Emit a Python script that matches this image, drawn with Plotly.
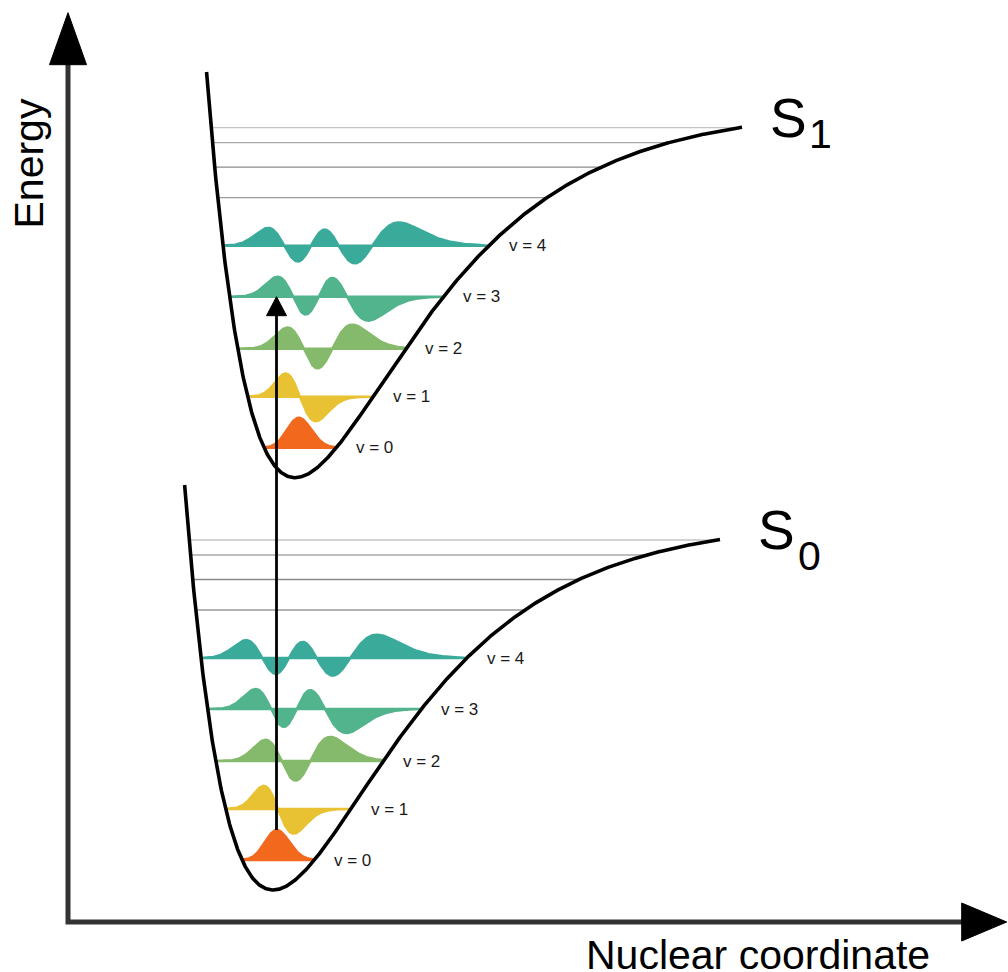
import numpy as np
import plotly.graph_objects as go
from numpy.polynomial.hermite import hermval
from math import factorial, pi, sqrt

W, H = 1008, 972

# Electronic states (ground and first excited singlet)
state_names = ["S0", "S1"]
well_x = [273.0, 295.0]        # nuclear coordinate of each potential minimum
well_e = [82.0, 494.3]         # energy of each potential minimum
curve_top = [405.0, 405.7]     # energy above the minimum where the repulsive wall is cut
curve_end_x = [720.0, 742.0]   # nuclear coordinate where the dissociative branch is cut

# Morse potential parameters shared by both states
morse_depth = 370.0
morse_alpha = 0.0081

# Vibrational levels drawn with wavefunctions (energy above the minimum)
vib_levels = [30.0, 81.0, 129.0, 181.0, 232.0]
vib_labels = ["v = 0", "v = 1", "v = 2", "v = 3", "v = 4"]
# Higher levels drawn as plain lines
upper_levels = [280.0, 310.5, 335.0, 350.0]
upper_colors = ["#9b9b9b", "#8a8a8a", "#a9a9a9", "#c4c4c4"]

# Wavefunction shape per level: centre offset from the minimum, width, height scale
wave_shift = [3.5, 5.0, 22.5, 23.5, 29.5]
wave_width = [12.0, 15.0, 20.3, 22.0, 26.4]
wave_scale = [40.0, 37.0, 37.0, 37.0, 35.0]
wave_skew = 0.004
wave_colors = ["#F2691E", "#E8C232", "#85BA6C", "#52B48C", "#3AAA9B"]

# Vertical transition: from S0 v=0 to S1 v=3
transition_from = 0
transition_to = 3

AX_X0, AX_Y0 = 68.0, 50.0
AX_XMAX, AX_YMAX = 1006.7, 959.3


def morse(x, x0):
    return morse_depth * (1.0 - np.exp(-morse_alpha * (x - x0))) ** 2


def turning_points(v, x0):
    r = np.sqrt(v / morse_depth)
    xl = x0 - np.log(1.0 + r) / morse_alpha
    xr = x0 - np.log(1.0 - r) / morse_alpha if r < 1 else x0 + 2000
    return xl, xr


def wavefunction(n, x, centre, width):
    d = x - centre
    xi = (1.0 - np.exp(-wave_skew * d)) / (wave_skew * width)
    coef = np.zeros(n + 1)
    coef[n] = 1.0
    norm = 1.0 / sqrt(2 ** n * factorial(n) * sqrt(pi))
    psi = norm * hermval(xi, coef) * np.exp(-xi ** 2 / 2.0)
    jac = np.exp(wave_skew * d / 2.0)
    return (-1) ** n * psi * jac


fig = go.Figure()

for s in range(2):
    x0, e0 = well_x[s], well_e[s]
    # upper vibrational levels as thin lines
    for lev, col in zip(upper_levels, upper_colors):
        xl, xr = turning_points(lev, x0)
        xr = min(xr, curve_end_x[s])
        fig.add_trace(go.Scatter(x=[xl, xr], y=[e0 + lev, e0 + lev], mode="lines",
                                 line=dict(color=col, width=1.3), hoverinfo="skip"))
    # wavefunctions
    for n, lev in enumerate(vib_levels):
        xl, xr = turning_points(lev, x0)
        xs = np.linspace(xl, xr, 500)
        psi = wavefunction(n, xs, x0 + wave_shift[n], wave_width[n])
        base = e0 + lev
        ys = base + wave_scale[n] * psi
        px = np.concatenate([xs, xs[::-1]])
        py = np.concatenate([ys, np.full_like(xs, base)])
        fig.add_trace(go.Scatter(x=px, y=py, mode="lines", fill="toself",
                                 fillcolor=wave_colors[n],
                                 line=dict(color=wave_colors[n], width=2.5),
                                 hoverinfo="skip"))
        fig.add_annotation(x=xr + 18, y=base, text=vib_labels[n], showarrow=False,
                           xanchor="left", yanchor="middle",
                           font=dict(size=17, color="#1a1a1a", family="Liberation Sans"))
    # potential energy curve
    xl_top, _ = turning_points(curve_top[s], x0)
    xc = np.linspace(xl_top, curve_end_x[s], 800)
    fig.add_trace(go.Scatter(x=xc, y=e0 + morse(xc, x0), mode="lines",
                             line=dict(color="black", width=3.6), hoverinfo="skip"))

# state labels
label_s = [(776.0, 442.0), (788.0, 854.5)]
label_sub = [(809.5, 416.3), (820.0, 838.0)]
for s in range(2):
    fig.add_annotation(x=label_s[s][0], y=label_s[s][1], text=state_names[s][0],
                       showarrow=False, xanchor="center", yanchor="middle",
                       font=dict(size=55, color="black", family="Liberation Sans"))
    fig.add_annotation(x=label_sub[s][0], y=label_sub[s][1], text=state_names[s][1],
                       showarrow=False, xanchor="center", yanchor="middle",
                       font=dict(size=41, color="black", family="Liberation Sans"))

# vertical transition arrow
tx = well_x[0] + wave_shift[transition_from]
y_start = well_e[0] + vib_levels[transition_from] + wave_scale[0] * wavefunction(
    0, np.array([tx]), tx, wave_width[0])[0]
y_end = well_e[1] + vib_levels[transition_to]
head_len, head_half = 19.0, 10.0
fig.add_trace(go.Scatter(x=[tx, tx], y=[y_start, y_end - head_len + 2], mode="lines",
                         line=dict(color="black", width=2.8), hoverinfo="skip"))
fig.add_trace(go.Scatter(x=[tx - head_half, tx + head_half, tx, tx - head_half],
                         y=[y_end - head_len, y_end - head_len, y_end, y_end - head_len],
                         mode="lines", fill="toself", fillcolor="black",
                         line=dict(color="black", width=1), hoverinfo="skip"))

# axes with arrowheads
ax_head_len, ax_head_half = 45.0, 18.5
fig.add_trace(go.Scatter(x=[AX_X0, AX_X0, AX_XMAX - ax_head_len + 2],
                         y=[AX_YMAX - ax_head_len + 2, AX_Y0, AX_Y0],
                         mode="lines", line=dict(color="#333333", width=5), hoverinfo="skip"))
fig.add_trace(go.Scatter(x=[AX_X0 - ax_head_half, AX_X0 + ax_head_half, AX_X0, AX_X0 - ax_head_half],
                         y=[AX_YMAX - 52, AX_YMAX - 52, AX_YMAX, AX_YMAX - 52],
                         mode="lines", fill="toself", fillcolor="black",
                         line=dict(color="black", width=1), hoverinfo="skip"))
fig.add_trace(go.Scatter(x=[AX_XMAX - ax_head_len, AX_XMAX - ax_head_len, AX_XMAX, AX_XMAX - ax_head_len],
                         y=[AX_Y0 - ax_head_half - 0.5, AX_Y0 + ax_head_half + 0.5, AX_Y0, AX_Y0 - ax_head_half - 0.5],
                         mode="lines", fill="toself", fillcolor="black",
                         line=dict(color="black", width=1), hoverinfo="skip"))

fig.add_annotation(x=28.0, y=808.5, text="Energy", textangle=-90, showarrow=False,
                   xanchor="center", yanchor="middle",
                   font=dict(size=41, color="black", family="Liberation Sans"))
fig.add_annotation(x=757.5, y=17.0, text="Nuclear coordinate", showarrow=False,
                   xanchor="center", yanchor="middle",
                   font=dict(size=41, color="black", family="Liberation Sans"))

fig.update_layout(
    width=W, height=H, margin=dict(l=0, r=0, t=0, b=0),
    paper_bgcolor="white", plot_bgcolor="white", showlegend=False,
    xaxis=dict(range=[0, W], visible=False, fixedrange=True),
    yaxis=dict(range=[0, H], visible=False, fixedrange=True),
)

fig.write_html("out.html")
